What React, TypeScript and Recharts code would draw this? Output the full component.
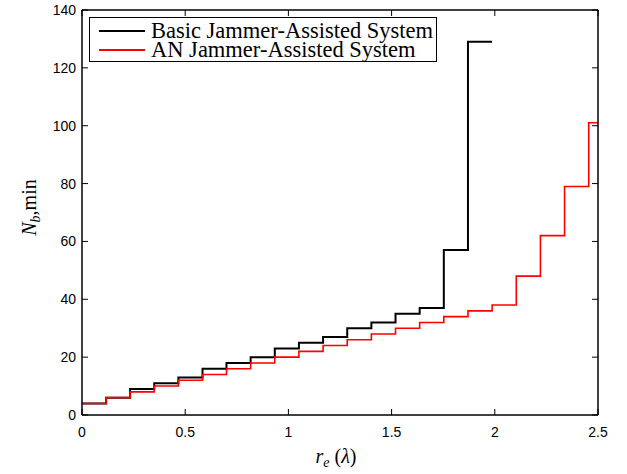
import { Legend, Line, LineChart, XAxis, YAxis } from "recharts";

// step edges along r_e (in λ)
const stepX = [
  0, 0.117, 0.233, 0.35, 0.467, 0.584, 0.7, 0.817, 0.934, 1.051, 1.168, 1.285, 1.402, 1.519, 1.636, 1.753, 1.87,
  1.987, 2.104, 2.221, 2.338, 2.455,
];
const basicN = [4, 6, 9, 11, 13, 16, 18, 20, 23, 25, 27, 30, 32, 35, 37, 57, 129];
const basicEnd = 1.987;
const anN = [4, 6, 8, 10, 12, 14, 16, 18, 20, 22, 24, 26, 28, 30, 32, 34, 36, 38, 48, 62, 79, 101];
const anEnd = 2.5;

const xTicks = [0, 0.5, 1, 1.5, 2, 2.5];
const yTicks = [0, 20, 40, 60, 80, 100, 120, 140];

const toSteps = (vals: number[], end: number) => {
  const pts = vals.map((v, i) => ({ x: stepX[i], n: v }));
  pts.push({ x: end, n: vals[vals.length - 1] });
  return pts;
};
const basicData = toSteps(basicN, basicEnd);
const anData = toSteps(anN, anEnd);

const sans = "'Liberation Sans', Arial, sans-serif";
const serif = "'Liberation Serif', 'Times New Roman', serif";

const BottomTick = (p: any) => (
  <g>
    <line x1={p.x} x2={p.x} y1={p.y} y2={p.y - 6} stroke="#000" />
    <text x={p.x} y={p.y + 22} textAnchor="middle" fontFamily={sans} fontSize={14} fill="#000">
      {p.payload.value}
    </text>
  </g>
);
const TopTick = (p: any) => <line x1={p.x} x2={p.x} y1={p.y} y2={p.y + 6} stroke="#000" />;
const LeftTick = (p: any) => (
  <g>
    <line x1={p.x} x2={p.x + 6} y1={p.y} y2={p.y} stroke="#000" />
    <text x={p.x - 6} y={p.y + 5} textAnchor="end" fontFamily={sans} fontSize={14} fill="#000">
      {p.payload.value}
    </text>
  </g>
);
const RightTick = (p: any) => <line x1={p.x} x2={p.x - 6} y1={p.y} y2={p.y} stroke="#000" />;

const LegendBox = () => (
  <div
    style={{
      border: "1.5px solid #000",
      background: "#fff",
      width: 348,
      height: 45,
      boxSizing: "border-box",
      fontFamily: serif,
      fontSize: 22.5,
      lineHeight: "19px",
      paddingTop: 3,
    }}
  >
    {[
      { name: "Basic Jammer-Assisted System", color: "#000" },
      { name: "AN Jammer-Assisted System", color: "#ff0000" },
    ].map((s) => (
      <div key={s.name} style={{ display: "flex", alignItems: "center", height: 19 }}>
        <span style={{ display: "inline-block", width: 46, height: 0, borderTop: `2px solid ${s.color}`, marginLeft: 9, marginRight: 6 }} />
        <span>{s.name}</span>
      </div>
    ))}
  </div>
);

export default function App() {
  return (
    <div style={{ position: "absolute", left: 0, top: 0 }}>
      <LineChart width={627} height={474} margin={{ top: 9, right: 28, bottom: 0, left: 0 }}>
        <XAxis
          dataKey="x"
          type="number"
          domain={[0, 2.5]}
          ticks={xTicks}
          height={59}
          tickLine={false}
          tickSize={0}
          tickMargin={0}
          tick={BottomTick}
          interval={0}
          axisLine={{ stroke: "#000", strokeWidth: 1.5 }}
          label={{
            content: (props: any) => {
              const vb = props.viewBox;
              return (
                <text x={vb.x + vb.width / 2 - 4} y={vb.y + 48} textAnchor="middle" fontFamily={serif} fontSize={20} fill="#000">
                  <tspan fontStyle="italic">r</tspan>
                  <tspan fontStyle="italic" fontSize={14} dy={4}>e</tspan>
                  <tspan dy={-4}> (</tspan>
                  <tspan fontStyle="italic">λ</tspan>
                  <tspan>)</tspan>
                </text>
              );
            },
          }}
        />
        <XAxis
          xAxisId="top"
          dataKey="x"
          type="number"
          orientation="top"
          domain={[0, 2.5]}
          ticks={xTicks}
          height={1}
          tickLine={false}
          tickSize={0}
          tickMargin={0}
          tick={TopTick}
          interval={0}
          axisLine={{ stroke: "#000", strokeWidth: 1.5 }}
        />
        <YAxis
          type="number"
          domain={[0, 140]}
          ticks={yTicks}
          width={82}
          tickLine={false}
          tickSize={0}
          tickMargin={0}
          tick={LeftTick}
          interval={0}
          axisLine={{ stroke: "#000", strokeWidth: 1.5 }}
          label={{
            content: (props: any) => {
              const vb = props.viewBox;
              const cx = 36;
              const cy = vb.y + vb.height / 2 - 5;
              return (
                <text x={cx} y={cy} transform={`rotate(-90 ${cx} ${cy})`} textAnchor="middle" fontFamily={serif} fontSize={20} fill="#000">
                  <tspan fontStyle="italic">N</tspan>
                  <tspan fontStyle="italic" fontSize={14} dy={4}>b</tspan>
                  <tspan dy={-4}>,min</tspan>
                </text>
              );
            },
          }}
        />
        <YAxis
          yAxisId="right"
          orientation="right"
          type="number"
          domain={[0, 140]}
          ticks={yTicks}
          width={1}
          tickLine={false}
          tickSize={0}
          tickMargin={0}
          tick={RightTick}
          interval={0}
          axisLine={{ stroke: "#000", strokeWidth: 1.5 }}
        />
        <Legend
          content={<LegendBox />}
          verticalAlign="middle"
          align="center"
          wrapperStyle={{ position: "absolute", left: 89, top: 17, width: "auto" }}
        />
        <Line
          data={basicData}
          dataKey="n"
          name="Basic Jammer-Assisted System"
          type="stepAfter"
          stroke="#000"
          strokeWidth={2}
          dot={false}
          isAnimationActive={false}
        />
        <Line
          data={anData}
          dataKey="n"
          name="AN Jammer-Assisted System"
          type="stepAfter"
          stroke="#ff0000"
          strokeWidth={1.6}
          dot={false}
          isAnimationActive={false}
        />
        {/* invisible copy so the box axes (top / right) get a series */}
        <Line
          data={anData}
          dataKey="n"
          xAxisId="top"
          yAxisId="right"
          stroke="none"
          dot={false}
          activeDot={false}
          legendType="none"
          isAnimationActive={false}
        />
      </LineChart>
    </div>
  );
}
